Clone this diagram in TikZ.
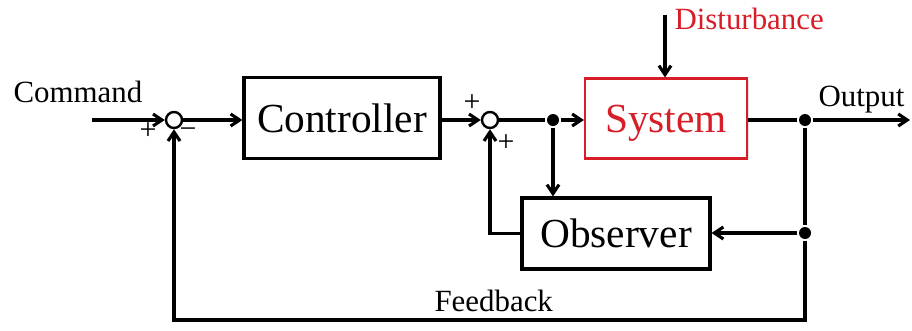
\documentclass[tikz,border=0pt]{standalone}
\usepackage{fontspec}
\setmainfont{Liberation Serif}
\usetikzlibrary{arrows.meta,shadows}
\definecolor{sysred}{RGB}{215,30,40}
\begin{document}
\begin{tikzpicture}[x=1bp,y=-1bp, line width=3.1bp,
 block/.style={draw, line width=3.2bp, inner sep=0pt, fill=white, text depth=0pt,
   drop shadow={shadow xshift=1.5bp, shadow yshift=-1.5bp, opacity=0.25}},
 sumnode/.style={draw, circle, line width=2.4bp, minimum size=16bp, inner sep=0pt, fill=white},
 dot/.style={circle, fill, minimum size=12bp, inner sep=0pt},
 arr/.style={-{Straight Barb[length=9bp,width=12bp]}},
 lbl/.style={font=\fontsize{31}{31}\selectfont, inner sep=0pt},
 sgn/.style={font=\fontsize{30}{30}\selectfont, inner sep=0pt},
 big/.style={font=\fontsize{41.5}{41.5}\selectfont}]
\useasboundingbox (0,0) rectangle (912,330);
\node[block, minimum width=196bp, minimum height=81bp, big] (ctrl) at (342,118) {Controller};
\node[block, draw=sysred, text=sysred, line width=2.2bp, minimum width=162bp, minimum height=80bp, big] (sys) at (666,118.5) {System};
\node[block, minimum width=188bp, minimum height=71bp, big] (obs) at (616,233.5) {Observer};
\node[sumnode] (s1) at (174,120) {};
\node[sumnode] (s2) at (490,120) {};
\node[dot] (d1) at (553,120) {};
\node[dot] (d2) at (805,120) {};
\node[dot] (d3) at (805,233) {};
\coordinate (cin) at (92,120);
\coordinate (out) at (910,120);
\coordinate (dist) at (665,15);
\coordinate (fb) at (805,320);
\node[lbl, anchor=base west] (tcmd) at (12,102) {Command};
\node[lbl, anchor=base west] (tout) at (817,106) {Output};
\node[lbl, anchor=base west, text=sysred] (tdist) at (673,29) {Disturbance};
\node[lbl, anchor=base west] (tfb) at (433,311) {Feedback};
\node[sgn] (p1) at (148,131) {+};
\node[sgn] (m1) at (188,133) {−};
\node[sgn] (p2) at (472,103) {+};
\node[sgn] (p3) at (506,143) {+};
\draw[arr] (cin) -- (s1);
\draw[arr] (s1) -- (ctrl.west |- s1);
\draw[arr] (ctrl.east |- s2) -- (s2);
\draw (s2) -- (d1);
\draw[arr] (d1) -- (sys.west |- d1);
\draw[arr] (d1) -- (obs.north -| d1);
\draw[arr] (obs.west) -| (s2);
\draw (sys.east |- d2) -- (d2);
\draw[arr] (d2) -- (out);
\draw (d2) -- (d3);
\draw[arr] (d3) -- (obs.east |- d3);
\draw[arr] (d3) -- (fb) -| (s1);
\draw[arr] (dist) -- (sys.north -| dist);
\end{tikzpicture}
\end{document}
